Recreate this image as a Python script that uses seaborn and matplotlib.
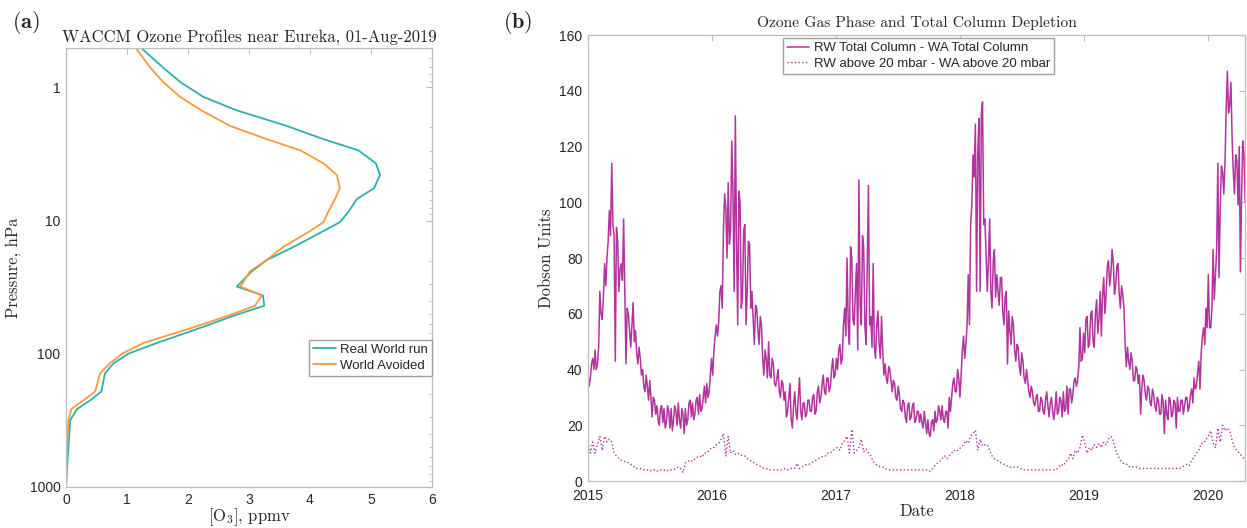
import numpy as np
import pandas as pd
import seaborn as sns
import matplotlib
matplotlib.use('Agg')
import matplotlib.pyplot as plt
import matplotlib.dates as mdates
from matplotlib.ticker import LogLocator, NullFormatter

## A.

# (a) WACCM profiles, pressure levels in hPa and O3 in ppmv
pres = [0.51, 0.71, 0.91, 1.18, 1.49, 1.95, 2.45, 2.97, 3.72, 4.55, 5.72, 6.9,
        8.6, 10.3, 12.0, 15.8, 19.8, 24.0, 31.3, 36.5, 43.6, 52.0, 64.0, 83.0,
        100.0, 118.0, 140.0, 192.0, 225.0, 260.0, 315.0, 500.0, 1000.0]
o3_rw = [1.24, 1.59, 1.87, 2.25, 2.80, 3.62, 4.22, 4.79, 5.08, 5.15, 5.05, 4.77,
         4.63, 4.49, 4.22, 3.73, 3.29, 3.05, 2.80, 3.23, 3.25, 2.74, 2.20, 1.49,
         1.02, 0.78, 0.64, 0.58, 0.39, 0.18, 0.07, 0.04, 0.0]
o3_wa = [1.15, 1.38, 1.59, 1.87, 2.22, 2.69, 3.29, 3.84, 4.22, 4.44, 4.49, 4.41,
         4.30, 4.22, 4.00, 3.56, 3.29, 3.02, 2.86, 3.21, 3.10, 2.65, 2.06, 1.27,
         0.92, 0.72, 0.56, 0.48, 0.28, 0.09, 0.04, 0.02, 0.0]

# (b) total column difference, two samples per week (DU)
tc_2015 = [38, 34, 37, 42, 44, 40, 47, 40, 42, 48, 68, 60, 58, 66, 78, 70, 80, 86, 97, 88,
           114, 92, 88, 43, 91, 86, 68, 76, 78, 72, 94, 68, 42, 62, 60, 54, 48, 56, 64, 50,
           54, 46, 42, 48, 44, 38, 40, 34, 32, 38, 34, 29, 36, 30, 23, 30, 29, 24, 27, 22,
           20, 26, 27, 21, 26, 19, 21, 27, 25, 19, 26, 18, 22, 27, 25, 20, 28, 22, 19, 26,
           24, 17, 26, 20, 22, 28, 29, 23, 28, 22, 24, 29, 30, 24, 31, 25, 26, 30, 34, 28,
           35, 30, 32, 38, 44, 38]
tc_2016 = [47, 52, 56, 52, 57, 68, 70, 62, 90, 103, 98, 80, 107, 85, 90, 122, 104, 68, 131, 86,
           56, 104, 100, 62, 66, 90, 92, 56, 68, 86, 85, 62, 68, 58, 49, 63, 62, 54, 49, 59,
           56, 44, 38, 47, 44, 37, 50, 38, 37, 44, 42, 35, 34, 37, 40, 32, 30, 36, 35, 29,
           32, 23, 25, 30, 35, 22, 19, 27, 32, 25, 22, 30, 37, 25, 22, 28, 28, 23, 24, 29,
           29, 25, 25, 30, 31, 24, 25, 32, 34, 28, 30, 35, 38, 32, 31, 37, 37, 32, 34, 40,
           44, 37, 38, 44]
tc_2017 = [40, 47, 49, 42, 44, 56, 62, 52, 80, 56, 49, 84, 80, 58, 56, 68, 78, 47, 108, 63,
           56, 88, 84, 56, 49, 78, 106, 56, 59, 48, 78, 48, 44, 56, 61, 49, 44, 59, 47, 38,
           42, 37, 35, 41, 40, 36, 32, 36, 35, 30, 29, 34, 31, 26, 25, 29, 28, 23, 21, 27,
           28, 22, 23, 27, 28, 21, 22, 25, 25, 21, 24, 21, 19, 25, 21, 17, 22, 17, 16, 21,
           22, 18, 25, 21, 22, 27, 25, 22, 27, 22, 21, 25, 25, 19, 30, 25, 30, 35, 37, 32,
           32, 40, 37, 30]
tc_2018 = [38, 47, 52, 44, 49, 56, 74, 56, 92, 99, 117, 109, 128, 68, 118, 130, 68, 132, 136, 92,
           94, 81, 68, 79, 94, 68, 62, 79, 83, 66, 74, 68, 63, 73, 73, 61, 56, 66, 68, 42,
           61, 54, 49, 59, 56, 47, 43, 49, 48, 41, 38, 46, 43, 37, 35, 40, 36, 32, 30, 34,
           32, 28, 27, 30, 31, 25, 25, 30, 29, 25, 24, 29, 32, 27, 23, 28, 30, 25, 22, 26,
           32, 24, 25, 30, 29, 23, 32, 25, 26, 34, 24, 33, 33, 28, 31, 36, 37, 34, 36, 41,
           55, 43, 44, 53]
tc_2019 = [46, 58, 59, 48, 49, 60, 61, 50, 48, 60, 65, 53, 58, 68, 52, 67, 73, 60, 67, 77,
           79, 70, 74, 83, 79, 67, 70, 77, 78, 67, 62, 70, 67, 62, 49, 41, 48, 43, 40, 46,
           43, 36, 36, 41, 40, 35, 38, 24, 33, 38, 36, 31, 29, 34, 33, 28, 27, 33, 31, 27,
           25, 30, 29, 24, 24, 31, 28, 17, 29, 24, 22, 30, 29, 23, 24, 29, 28, 19, 30, 25,
           25, 29, 29, 24, 27, 30, 30, 25, 27, 31, 33, 28, 37, 33, 34, 39, 43, 33, 46, 52,
           55, 49, 62, 55]
tc_2020 = [74, 55, 55, 62, 83, 65, 74, 83, 114, 73, 98, 113, 111, 103, 114, 133, 147, 132, 135, 143,
           123, 111, 103, 117, 115, 99, 120, 75, 103, 122, 117, 100]

# (b) column above 20 mbar difference, weekly (DU)
ab_2015 = [14, 10, 14, 10, 13, 16, 11, 16, 14, 15, 14, 10, 9, 8, 7.5, 7, 7, 6.5, 6, 5.5,
           4.5, 4.5, 4.5, 4, 4, 4, 3.5, 4, 4, 3.5, 4, 4, 4, 3.5, 4, 4, 4, 4.5, 5, 4.5,
           3, 6.5, 7, 7.5, 7, 8, 8.5, 9, 8.5, 10, 10, 11, 12]
ab_2016 = [12, 13, 13.5, 15, 17, 9, 16, 10, 11, 9.5, 10, 9.5, 9, 9, 8, 7.5, 7, 6.5, 6, 5.5,
           5, 4.5, 4.5, 4, 4, 4, 4, 4, 4, 4, 4.5, 4, 4.5, 4.5, 4.5, 6.3, 4.5, 5, 5.5, 6,
           6, 6.5, 7, 7.5, 8, 8.5, 9, 9, 10, 10, 11, 11.5]
ab_2017 = [12, 11, 13.5, 14.5, 16, 10, 18.5, 10, 11, 12, 15, 10.5, 11.5, 10, 9, 7, 6, 5.5, 5, 5,
           4.5, 4, 4, 4, 4, 4, 4, 4, 4, 4, 4, 4, 4, 4, 4, 4, 4, 4, 4, 3.5,
           4.5, 5.5, 6.3, 7, 8, 9, 8, 9, 10, 11, 10.5, 11.5]
ab_2018 = [12, 13, 14.5, 13.5, 16, 17, 18.2, 11, 15, 12.5, 13, 13, 11, 9, 8, 7.5, 7, 6.3, 6, 5.7,
           5, 5, 5, 5, 5, 4.5, 4, 4, 4, 4, 4, 4, 4, 4, 4, 4, 4, 4, 4, 4,
           4, 5, 6, 5.5, 7, 7.5, 10, 8, 11, 10, 12, 16.5]
ab_2019 = [13.5, 10, 12, 11, 13, 12, 13.5, 12, 14, 13, 15, 16, 14.5, 11, 9, 7.5, 6.5, 6, 6, 5,
           5, 5, 5, 4.5, 4.5, 4.5, 4.5, 4.5, 4.5, 4.5, 4.5, 4.5, 4.5, 4.5, 4.5, 4.5, 4.5, 4.5, 4.5, 4.5,
           4.5, 5, 5.5, 6, 5.5, 7.5, 8.5, 10, 11, 13.5, 13.5, 15]
ab_2020 = [16, 18, 13.5, 12, 19, 14, 20, 18, 19, 18, 14.5, 12, 11, 10, 9, 8]

total_col = np.concatenate([tc_2015, tc_2016, tc_2017, tc_2018, tc_2019, tc_2020])
above_20 = np.concatenate([ab_2015, ab_2016, ab_2017, ab_2018, ab_2019, ab_2020])
df_tc = pd.DataFrame({'date': pd.date_range('2015-01-01', periods=len(total_col), freq='84h'),
                      'du': total_col})
df_ab = pd.DataFrame({'date': pd.date_range('2015-01-01', periods=len(above_20), freq='7D'),
                      'du': above_20})
df_prof = pd.DataFrame({'pres': pres, 'rw': o3_rw, 'wa': o3_wa})

## B. Style
sns.set_style('white')
plt.rcParams['font.family'] = ['Liberation Sans', 'DejaVu Sans']
plt.rcParams['mathtext.fontset'] = 'cm'
plt.rcParams['axes.unicode_minus'] = False

teal = '#2bb1ad'
orange = '#f89a3a'
magenta = '#b3339f'
frame_c = '#bdbdbd'
text_c = '#262626'
serif = 'cmr10'

fig = plt.figure(figsize=(12.47, 5.28), dpi=100)
ax1 = fig.add_axes([0.0529, 0.0777, 0.2935, 0.8314])
ax2 = fig.add_axes([0.4715, 0.089, 0.5269, 0.8447])

def frame(ax, xpad):
    for s in ax.spines.values():
        s.set_color(frame_c)
        s.set_linewidth(0.9)
    ax.tick_params(which='both', direction='in', top=True, right=True,
                   color=frame_c, labelcolor=text_c, labelsize=10)
    ax.tick_params(axis='y', pad=4)
    ax.tick_params(axis='x', pad=xpad)
    ax.tick_params(which='major', length=4)
    ax.tick_params(which='minor', length=2.5)

leg_kw = dict(borderaxespad=0, frameon=True, fancybox=False, framealpha=1,
              edgecolor='#a0a0a0', fontsize=9.5, handlelength=1.7,
              handletextpad=0.35, labelspacing=0.25, borderpad=0.3)

## C. Panel (a)
sns.lineplot(data=df_prof, x='rw', y='pres', sort=False, estimator=None,
             color=teal, lw=1.3, ax=ax1, label='Real World run')
sns.lineplot(data=df_prof, x='wa', y='pres', sort=False, estimator=None,
             color=orange, lw=1.3, ax=ax1, label='World Avoided')
ax1.set_yscale('log')
ax1.set_ylim(1000, 0.507)
ax1.set_xlim(0, 6)
ax1.set_xticks(range(7))
ax1.set_yticks([1, 10, 100, 1000])
ax1.set_yticklabels(['1', '10', '100', '1000'])
ax1.yaxis.set_minor_locator(LogLocator(base=10, subs=np.arange(2, 10)))
ax1.yaxis.set_minor_formatter(NullFormatter())
frame(ax1, 4)
ax1.set_xlabel(r'$[\mathrm{O}_3]$, ppmv', fontfamily=serif, fontsize=12,
               color=text_c, labelpad=0)
ax1.set_ylabel('Pressure, hPa', fontfamily=serif, fontsize=12, color=text_c, labelpad=6)
ax1.set_title('WACCM Ozone Profiles near Eureka, 01-Aug-2019', fontfamily=serif,
              fontsize=12, color=text_c, pad=5)
ax1.legend(loc='upper right', bbox_to_anchor=(1.0, 0.335), **leg_kw)

## D. Panel (b)
sns.lineplot(data=df_tc, x='date', y='du', color=magenta, lw=1.1, ax=ax2,
             label='RW Total Column - WA Total Column')
sns.lineplot(data=df_ab, x='date', y='du', color=magenta, lw=1.0, ls=':', ax=ax2,
             label='RW above 20 mbar - WA above 20 mbar')
ax2.set_xlim(pd.Timestamp('2015-01-01'), pd.Timestamp('2020-04-19'))
ax2.set_ylim(0, 160)
ax2.set_yticks(range(0, 161, 20))
ax2.xaxis.set_major_locator(mdates.YearLocator())
ax2.xaxis.set_major_formatter(mdates.DateFormatter('%Y'))
frame(ax2, 6)
ax2.set_xlabel('Date', fontfamily=serif, fontsize=12, color=text_c, labelpad=0)
ax2.set_ylabel('Dobson Units', fontfamily=serif, fontsize=12, color=text_c, labelpad=4)
ax2.set_title('Ozone Gas Phase and Total Column Depletion', fontfamily=serif,
              fontsize=11.2, color=text_c, pad=6)
ax2.legend(loc='upper left', bbox_to_anchor=(0.297, 0.993), **leg_kw)

fig.text(0.0096, 0.958, r'$\mathbf{(a)}$', fontsize=16, color=text_c, va='center')
fig.text(0.403, 0.958, r'$\mathbf{(b)}$', fontsize=16, color=text_c, va='center')

plt.savefig('out.png', dpi=100)
